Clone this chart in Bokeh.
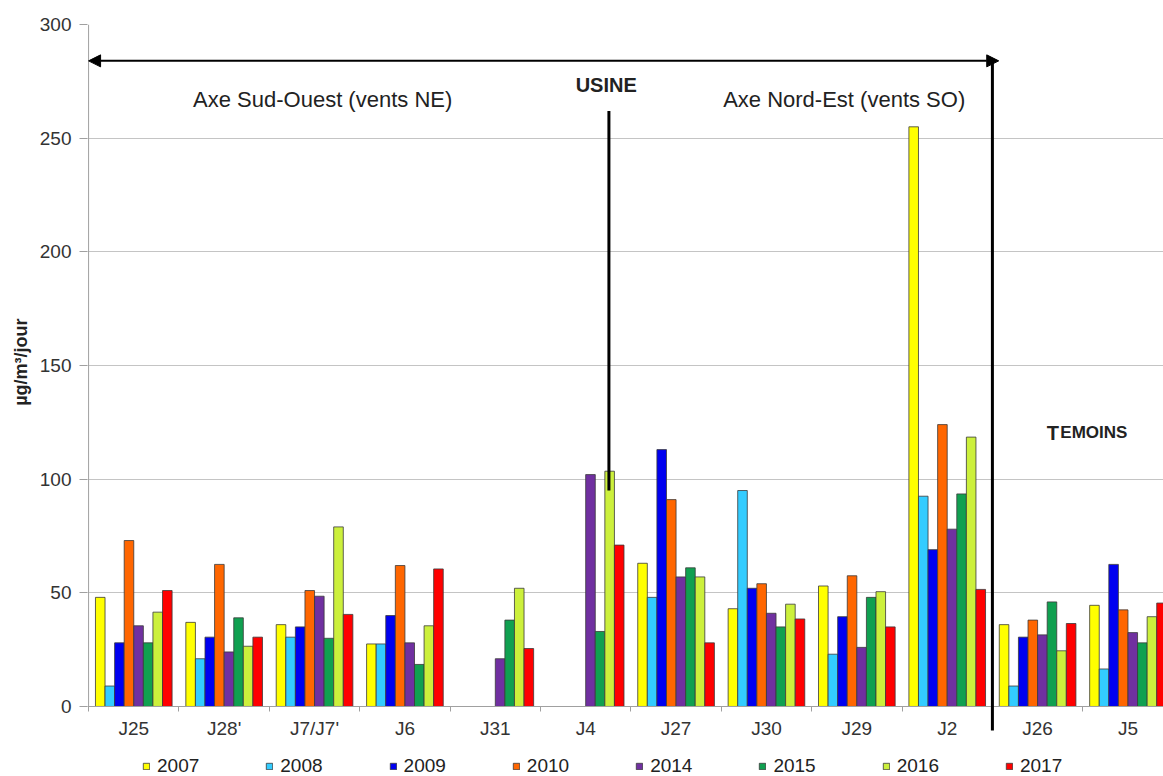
from bokeh.plotting import figure
from bokeh.models import (Range1d, FixedTicker, Legend, LegendItem, Arrow, NormalHead,
                          ColumnDataSource, Label)
from bokeh.embed import file_html
from bokeh.resources import INLINE

categories = ["J25", "J28'", "J7/J7'", "J6", "J31", "J4", "J27", "J30", "J29", "J2", "J26", "J5"]
years = ["2007", "2008", "2009", "2010", "2014", "2015", "2016", "2017"]
colors = ["#FFFF00", "#33CCFF", "#0000F0", "#FF6600", "#7030A0", "#10A050", "#CCF03C", "#FF0000"]

v2007 = [48, 37, 36, 27.5, None, None, 63, 43, 53, 255, 36, 44.5]
v2008 = [9, 21, 30.5, 27.5, None, None, 48, 95, 23, 92.5, 9, 16.5]
v2009 = [28, 30.5, 35, 40, None, None, 113, 52, 39.5, 69, 30.5, 62.5]
v2010 = [73, 62.5, 51, 62, None, None, 91, 54, 57.5, 124, 38, 42.5]
v2014 = [35.5, 24, 48.5, 28, 21, 102, 57, 41, 26, 78, 31.5, 32.5]
v2015 = [28, 39, 30, 18.5, 38, 33, 61, 35, 48, 93.5, 46, 28]
v2016 = [41.5, 26.5, 79, 35.5, 52, 103.5, 57, 45, 50.5, 118.5, 24.5, 39.5]
v2017 = [51, 30.5, 40.5, 60.5, 25.5, 71, 28, 38.5, 35, 51.5, 36.5, 45.5]
series = [v2007, v2008, v2009, v2010, v2014, v2015, v2016, v2017]

yticks = [0, 50, 100, 150, 200, 250, 300]

FONT = "Liberation Sans"
bw = 0.106

p = figure(width=1163, height=776, output_backend="svg", toolbar_location=None,
           x_range=Range1d(-0.012, 11.893), y_range=Range1d(-30.8, 300),
           min_border_left=87, min_border_right=0, min_border_top=24, min_border_bottom=0,
           title="µg/m³/jour", title_location="left")
p.outline_line_color = None
p.background_fill_color = "white"
p.title.text_font = FONT
p.title.text_font_style = "bold"
p.title.text_font_size = "18px"
p.title.text_color = "#222222"
p.title.align = "right"
p.title.offset = 294
p.title.standoff = 12

items = []
for k, (yr, vals, col) in enumerate(zip(years, series, colors)):
    xs, tops = [], []
    for i, v in enumerate(vals):
        if v is not None:
            xs.append(i + 0.5 + (k - 3.5) * bw)
            tops.append(v)
    src = ColumnDataSource(dict(x=xs, top=tops))
    r = p.vbar(x="x", top="top", bottom=0, width=bw, source=src,
               fill_color=col, line_color="#3a3a3a", line_width=0.8)
    items.append(LegendItem(label=yr, renderers=[r]))

# y axis line only from 0 to 300
p.segment(x0=[0], y0=[0], x1=[0], y1=[300], line_color="#A0A0A0", line_width=1)

# x axis drawn at y = 0
centers = [i + 0.5 for i in range(len(categories))]
p.xaxis.fixed_location = 0
p.xaxis.ticker = FixedTicker(ticks=centers, minor_ticks=list(range(len(categories) + 1)))
p.xaxis.major_label_overrides = {c: lab for c, lab in zip(centers, categories)}
p.xaxis.major_tick_line_color = None
p.xaxis.major_tick_out = 5
p.xaxis.minor_tick_line_color = "#A0A0A0"
p.xaxis.minor_tick_out = 5
p.xaxis.minor_tick_in = 0
p.xaxis.axis_line_color = "#A0A0A0"
p.xaxis.major_label_text_font = FONT
p.xaxis.major_label_text_font_size = "19px"
p.xaxis.major_label_text_color = "#333333"
p.xaxis.major_label_standoff = 7

# y axis
p.yaxis.ticker = FixedTicker(ticks=yticks)
p.yaxis.minor_tick_line_color = None
p.yaxis.major_tick_out = 8
p.yaxis.major_tick_in = 0
p.yaxis.major_tick_line_color = "#A0A0A0"
p.yaxis.axis_line_color = None
p.yaxis.major_label_text_font = FONT
p.yaxis.major_label_text_font_size = "19px"
p.yaxis.major_label_text_color = "#333333"
p.yaxis.major_label_standoff = 8

p.xgrid.grid_line_color = None
p.ygrid.ticker = FixedTicker(ticks=yticks)
p.ygrid.grid_line_color = "#C4C4C4"

# legend at the bottom of the frame
legend = Legend(items=items, orientation="horizontal", location=(55, -1),
                label_text_font=FONT, label_text_font_size="19px",
                label_text_color="#222222", glyph_width=8, glyph_height=8,
                label_standoff=7, spacing=66, padding=0, margin=0,
                border_line_color=None, background_fill_alpha=0)
p.add_layout(legend, "center")

# annotations
head = dict(size=12, fill_color="black", line_color="black")
p.add_layout(Arrow(start=NormalHead(**head), end=NormalHead(**head),
                   x_start=0.0, y_start=284, x_end=10.07, y_end=284,
                   line_width=2, line_color="black"))
p.add_layout(Arrow(end=None, x_start=10.0, y_start=284, x_end=10.0, y_end=-10.6,
                   line_width=3, line_color="black"))
p.add_layout(Arrow(end=None, x_start=5.757, y_start=262, x_end=5.757, y_end=95,
                   line_width=3, line_color="black"))

lab = dict(text_font=FONT, text_align="center", text_baseline="middle", text_color="#222222")
p.add_layout(Label(x=2.59, y=267, text="Axe Sud-Ouest (vents NE)", text_font_size="22px", **lab))
p.add_layout(Label(x=8.36, y=267, text="Axe Nord-Est (vents SO)", text_font_size="22px", **lab))
p.add_layout(Label(x=5.727, y=273.5, text="USINE", text_font_size="20px",
                   text_font_style="bold", **lab))
p.add_layout(Label(x=10.6, y=120.5, text="T", text_font=FONT, text_font_size="20px",
                   text_font_style="bold", text_align="left", text_baseline="alphabetic",
                   text_color="#222222"))
p.add_layout(Label(x=10.752, y=120.5, text="EMOINS", text_font=FONT, text_font_size="17px",
                   text_font_style="bold", text_align="left", text_baseline="alphabetic",
                   text_color="#222222"))

open("out.html", "w").write(file_html(p, INLINE))
